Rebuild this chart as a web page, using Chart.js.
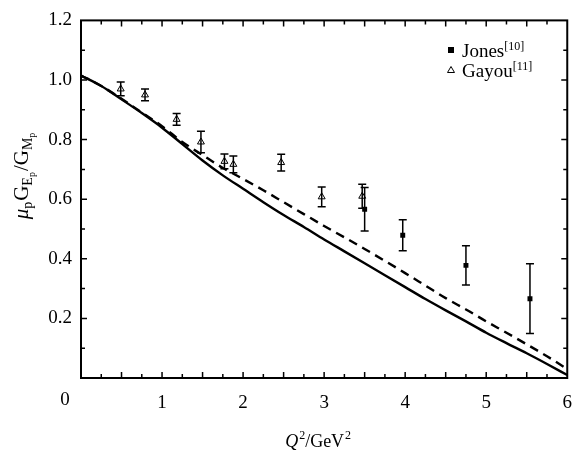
<!DOCTYPE html>
<html>
<head>
<meta charset="utf-8">
<script src="https://cdn.jsdelivr.net/npm/chart.js@4.4.1/dist/chart.umd.min.js"></script>
<style>
  html, body { margin: 0; padding: 0; background: #fff; }
  #wrap { width: 586px; height: 457px; }
</style>
</head>
<body>
<div id="wrap"><canvas id="ratioChart" width="586" height="457"></canvas></div>
<script>
// model curves, sampled every 0.25 GeV^2
const q2Curve = [0, 0.25, 0.5, 0.75, 1, 1.25, 1.5, 1.75, 2, 2.25, 2.5, 2.75, 3,
                 3.25, 3.5, 3.75, 4, 4.25, 4.5, 4.75, 5, 5.25, 5.5, 5.75, 6];
const solidCurve = [1.015, 0.98, 0.935, 0.889, 0.84, 0.785, 0.73, 0.68, 0.635, 0.59, 0.547, 0.507, 0.465,
                    0.425, 0.385, 0.345, 0.305, 0.265, 0.227, 0.19, 0.152, 0.117, 0.083, 0.047, 0.01];
const dashedCurve = [1.015, 0.98, 0.937, 0.891, 0.845, 0.792, 0.748, 0.705, 0.668, 0.63, 0.59, 0.55, 0.51,
                     0.472, 0.433, 0.393, 0.352, 0.31, 0.268, 0.23, 0.19, 0.152, 0.113, 0.073, 0.03];

// measurements
const jonesQ2 = [3.50, 3.97, 4.75, 5.54];
const jonesRatio = [0.566, 0.479, 0.378, 0.266];
const jonesErr = [0.073, 0.052, 0.066, 0.117];

const gayouQ2 = [0.49, 0.79, 1.18, 1.48, 1.77, 1.88, 2.47, 2.97, 3.47];
const gayouRatio = [0.970, 0.950, 0.868, 0.792, 0.727, 0.717, 0.723, 0.608, 0.610];
const gayouErr = [0.023, 0.020, 0.020, 0.036, 0.025, 0.028, 0.028, 0.033, 0.040];

const xTicks = [0, 1, 2, 3, 4, 5, 6];
const yTicks = [0.2, 0.4, 0.6, 0.8, 1.0, 1.2];

const serif = '"Liberation Serif", "Times New Roman", serif';
const toXY = (xs, ys) => xs.map((x, i) => ({ x: x, y: ys[i] }));

// draws a row of text pieces (size, vertical shift, italic) starting at x
function drawRuns(ctx, runs, x, y) {
  let cx = x;
  runs.forEach(r => {
    ctx.font = (r.italic ? 'italic ' : '') + r.size + 'px ' + serif;
    ctx.fillText(r.text, cx, y + (r.dy || 0));
    cx += ctx.measureText(r.text).width + (r.gap || 0);
  });
  return cx;
}
function runsWidth(ctx, runs) {
  let w = 0;
  runs.forEach(r => {
    ctx.font = (r.italic ? 'italic ' : '') + r.size + 'px ' + serif;
    w += ctx.measureText(r.text).width + (r.gap || 0);
  });
  return w;
}

const decorations = {
  id: 'decorations',
  afterDatasetsDraw(chart) {
    const ctx = chart.ctx;
    const xs = chart.scales.x, ys = chart.scales.y;
    const a = chart.chartArea;
    ctx.save();
    ctx.strokeStyle = '#000';
    ctx.fillStyle = '#000';

    // error bars
    ctx.lineWidth = 1.5;
    const bars = (qs, vals, errs) => qs.forEach((q, i) => {
      const px = xs.getPixelForValue(q);
      const top = ys.getPixelForValue(vals[i] + errs[i]);
      const bot = ys.getPixelForValue(vals[i] - errs[i]);
      ctx.beginPath();
      ctx.moveTo(px, top); ctx.lineTo(px, bot);
      ctx.moveTo(px - 4, top); ctx.lineTo(px + 4, top);
      ctx.moveTo(px - 4, bot); ctx.lineTo(px + 4, bot);
      ctx.stroke();
    });
    bars(gayouQ2, gayouRatio, gayouErr);
    bars(jonesQ2, jonesRatio, jonesErr);

    // frame
    ctx.lineWidth = 2;
    ctx.strokeRect(a.left, a.top, a.right - a.left, a.bottom - a.top);

    // inward ticks on all four sides
    ctx.lineWidth = 1.5;
    ctx.beginPath();
    for (let k = 1; k < 24; k++) {
      const v = k * 0.25;
      const len = k % 2 === 0 ? 6 : 4;
      const px = xs.getPixelForValue(v);
      ctx.moveTo(px, a.bottom); ctx.lineTo(px, a.bottom - len);
      ctx.moveTo(px, a.top); ctx.lineTo(px, a.top + len);
    }
    for (let k = 1; k < 12; k++) {
      const v = k * 0.1;
      const len = k % 2 === 0 ? 6 : 4;
      const py = ys.getPixelForValue(v);
      ctx.moveTo(a.left, py); ctx.lineTo(a.left + len, py);
      ctx.moveTo(a.right, py); ctx.lineTo(a.right - len, py);
    }
    ctx.stroke();

    // corner zero label
    ctx.font = '19px ' + serif;
    ctx.textAlign = 'center';
    ctx.textBaseline = 'alphabetic';
    ctx.fillText('0', a.left - 16, 405);
    ctx.textAlign = 'left';

    // legend
    ctx.fillRect(448, 47, 6, 6);
    ctx.lineWidth = 1;
    ctx.beginPath();
    ctx.moveTo(451, 66.5); ctx.lineTo(454.5, 72.5); ctx.lineTo(447.5, 72.5); ctx.closePath();
    ctx.stroke();
    drawRuns(ctx, [{ text: 'Jones', size: 19 }, { text: '[10]', size: 12, dy: -7 }], 462, 57);
    drawRuns(ctx, [{ text: 'Gayou', size: 19 }, { text: '[11]', size: 12, dy: -7 }], 462, 77);

    // x axis title
    const xRuns = [
      { text: 'Q', size: 18, italic: true, gap: 1 },
      { text: '2', size: 12, dy: -8 },
      { text: '/GeV', size: 18, gap: 1 },
      { text: '2', size: 12, dy: -8 }
    ];
    const xw = runsWidth(ctx, xRuns);
    drawRuns(ctx, xRuns, (a.left + a.right) / 2 - xw / 2 - 6, 447);

    // y axis title, rotated
    const yRuns = [
      { text: '\u03bc', size: 21, italic: true },
      { text: 'p', size: 14, dy: 4, gap: 1 },
      { text: 'G', size: 21 },
      { text: 'E', size: 14, dy: 4 },
      { text: 'p', size: 10, dy: 7, gap: 1 },
      { text: '/', size: 21 },
      { text: 'G', size: 21 },
      { text: 'M', size: 14, dy: 4 },
      { text: 'p', size: 10, dy: 7 }
    ];
    const yw = runsWidth(ctx, yRuns);
    ctx.translate(28, 176);
    ctx.rotate(-Math.PI / 2);
    drawRuns(ctx, yRuns, -yw / 2, 0);
    ctx.restore();
  }
};

new Chart(document.getElementById('ratioChart'), {
  type: 'scatter',
  data: {
    datasets: [
      {
        label: 'solid',
        data: toXY(q2Curve, solidCurve),
        showLine: true,
        borderColor: '#000',
        borderWidth: 2.4,
        pointRadius: 0,
        cubicInterpolationMode: 'monotone'
      },
      {
        label: 'dashed',
        data: toXY(q2Curve, dashedCurve),
        showLine: true,
        borderColor: '#000',
        borderWidth: 2.4,
        borderDash: [9, 6],
        pointRadius: 0,
        cubicInterpolationMode: 'monotone'
      },
      {
        label: 'Jones',
        data: toXY(jonesQ2, jonesRatio),
        pointStyle: 'rect',
        pointRadius: 3.5,
        backgroundColor: '#000',
        borderColor: '#000',
        borderWidth: 0
      },
      {
        label: 'Gayou',
        data: toXY(gayouQ2, gayouRatio),
        pointStyle: 'triangle',
        pointRadius: 4,
        backgroundColor: 'rgba(255,255,255,0)',
        borderColor: '#000',
        borderWidth: 1
      }
    ]
  },
  options: {
    responsive: false,
    animation: false,
    events: [],
    layout: { padding: { left: 0, right: 10, top: 13, bottom: 0 } },
    plugins: { legend: { display: false }, tooltip: { enabled: false } },
    scales: {
      x: {
        type: 'linear',
        min: 0,
        max: 6,
        grid: { display: false, drawTicks: false },
        border: { display: false },
        afterBuildTicks: s => { s.ticks = xTicks.map(v => ({ value: v })); },
        afterFit: s => { s.height = 79; },
        ticks: {
          color: '#000',
          padding: 14,
          font: { family: serif, size: 19 },
          callback: v => (v === 0 ? '' : String(v))
        }
      },
      y: {
        type: 'linear',
        min: 0,
        max: 1.2,
        grid: { display: false, drawTicks: false },
        border: { display: false },
        afterBuildTicks: s => { s.ticks = yTicks.map(v => ({ value: v })); },
        afterFit: s => { s.width = 81; },
        ticks: {
          color: '#000',
          padding: 9,
          font: { family: serif, size: 19 },
          callback: v => Number(v).toFixed(1)
        }
      }
    }
  },
  plugins: [decorations]
});
</script>
</body>
</html>
